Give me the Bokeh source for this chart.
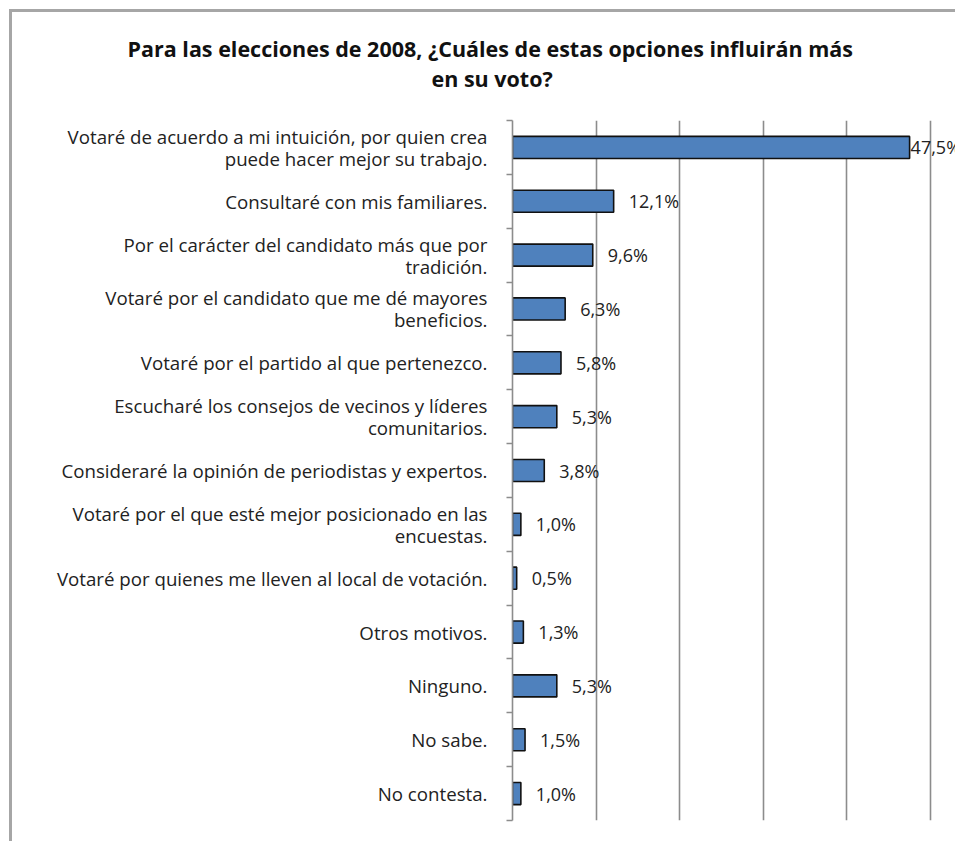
from bokeh.plotting import figure
from bokeh.models import (ColumnDataSource, LabelSet, Title, FixedTicker, Range1d)
from bokeh.core.properties import value
from bokeh.embed import file_html
from bokeh.resources import INLINE

categories = [
    "Votaré de acuerdo a mi intuición, por quien crea\npuede hacer mejor su trabajo.",
    "Consultaré con mis familiares.",
    "Por el carácter del candidato más que por\ntradición.",
    "Votaré por el candidato que me dé mayores\nbeneficios.",
    "Votaré por el partido al que pertenezco.",
    "Escucharé los consejos de vecinos y líderes\ncomunitarios.",
    "Consideraré la opinión de periodistas y expertos.",
    "Votaré por el que esté mejor posicionado en las\nencuestas.",
    "Votaré por quienes me lleven al local de votación.",
    "Otros motivos.",
    "Ninguno.",
    "No sabe.",
    "No contesta.",
]
values = [47.5, 12.1, 9.6, 6.3, 5.8, 5.3, 3.8, 1.0, 0.5, 1.3, 5.3, 1.5, 1.0]
value_labels = ["47,5%", "12,1%", "9,6%", "6,3%", "5,8%", "5,3%", "3,8%",
                "1,0%", "0,5%", "1,3%", "5,3%", "1,5%", "1,0%"]
title_lines = ["Para las elecciones de 2008, ¿Cuáles de estas opciones influirán más",
               "en su voto?"]
grid_ticks = [10, 20, 30, 40, 50, 60]

FONT = "Open Sans"
W, H = 946, 832
LEFT, TOP, BOTTOM = 500, 108, 24
PX_PER_UNIT = 8.36
x_end = (W - LEFT) / PX_PER_UNIT

n = len(categories)
pos = list(range(n))
src = ColumnDataSource(dict(
    y=pos, v=values, lab=value_labels,
    off=[1 if v > 40 else 15 for v in values],
))

p = figure(width=W, height=H, output_backend="svg", toolbar_location=None,
           x_range=Range1d(0, x_end), y_range=Range1d(n - 0.5, -0.5),
           min_border_left=LEFT, min_border_top=TOP, min_border_bottom=BOTTOM,
           min_border_right=0, title=None)
p.styles = {"margin-left": "9px", "margin-top": "9px",
            "border-left": "3px solid #A6A6A6", "border-top": "3px solid #A6A6A6"}
p.outline_line_color = None
p.background_fill_color = "white"
p.border_fill_color = "white"

p.hbar(y="y", right="v", left=0, height=0.41, source=src,
       fill_color="#4F81BD", line_color="#111111", line_width=1.6)

labels = LabelSet(x="v", y="y", text="lab", source=src, x_offset="off",
                  text_font=value(FONT), text_font_size="18px",
                  text_color="#222222", text_baseline="middle", text_align="left")
p.add_layout(labels)

# x axis hidden, vertical grid lines only
p.xaxis.visible = False
p.xgrid.ticker = FixedTicker(ticks=grid_ticks)
p.xgrid.grid_line_color = "#8C8C8C"
p.xgrid.grid_line_width = 1.6
p.ygrid.visible = False

yax = p.yaxis[0]
yax.ticker = FixedTicker(ticks=pos, minor_ticks=[i - 0.5 for i in range(n + 1)])
yax.major_label_overrides = {i: c for i, c in enumerate(categories)}
yax.major_tick_line_color = None
yax.major_tick_out = 0
yax.major_tick_in = 0
yax.minor_tick_line_color = "#8C8C8C"
yax.minor_tick_line_width = 1.5
yax.minor_tick_out = 6
yax.minor_tick_in = 0
yax.axis_line_color = "#8C8C8C"
yax.axis_line_width = 1.6
yax.major_label_standoff = 19
yax.major_label_text_font = FONT
yax.major_label_text_font_size = "18.7px"
yax.major_label_text_color = "#222222"
yax.major_label_text_line_height = 0.88

# title (two lines, centred over the whole chart at page x ~ 489)
p.add_layout(Title(text=title_lines[1], align="left", offset=-81, standoff=55,
                   text_font=FONT, text_font_size="21.5px",
                   text_font_style="bold", text_color="#111111"), "above")
p.add_layout(Title(text=title_lines[0], align="left", offset=-385, standoff=-56,
                   text_font=FONT, text_font_size="21.5px",
                   text_font_style="bold", text_color="#111111"), "above")

open("out.html", "w").write(file_html(p, INLINE))
